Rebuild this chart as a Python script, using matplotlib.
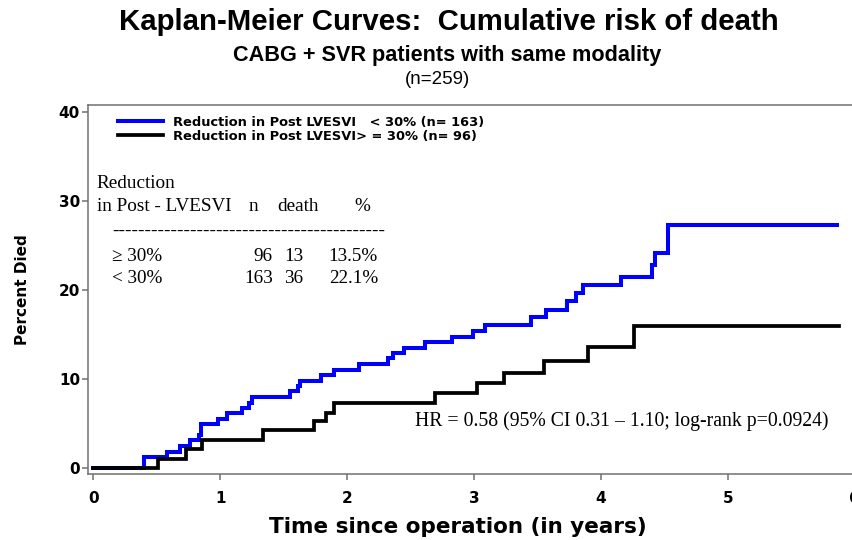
import matplotlib
matplotlib.use("Agg")
import matplotlib.pyplot as plt
from matplotlib.lines import Line2D

# Kaplan-Meier step points (years, cumulative % died)
blue_time = [0, 0.40, 0.58, 0.68, 0.76, 0.83, 0.85, 0.985, 1.056, 1.17, 1.23, 1.25,
             1.55, 1.61, 1.625, 1.79, 1.90, 2.09, 2.32, 2.36, 2.45, 2.61, 2.83, 2.99,
             3.09, 3.45, 3.57, 3.73, 3.80, 3.86, 4.16, 4.40, 4.43, 4.53, 5.86]
blue_pct = [0, 1.2, 1.8, 2.4, 3.1, 3.7, 4.9, 5.5, 6.1, 6.7, 7.3, 7.9,
            8.6, 9.2, 9.8, 10.4, 11.0, 11.7, 12.3, 12.9, 13.5, 14.1, 14.7, 15.4,
            16.1, 16.9, 17.7, 18.7, 19.6, 20.6, 21.5, 22.8, 24.2, 27.3, 27.3]

black_time = [0, 0.51, 0.73, 0.86, 1.335, 1.74, 1.83, 1.90, 2.69, 3.02, 3.24, 3.55,
              3.90, 4.26, 5.88]
black_pct = [0, 1.0, 2.1, 3.1, 4.2, 5.2, 6.2, 7.3, 8.4, 9.5, 10.7, 12.0,
             13.6, 15.9, 15.9]

legend_labels = ["Reduction in Post LVESVI   < 30% (n= 163)",
                 "Reduction in Post LVESVI> = 30% (n= 96)"]

# summary table
table_groups = ["\u2265 30%", "< 30%"]
table_n = [96, 163]
table_deaths = [13, 36]
table_pct = ["13.5%", "22.1%"]

hr_text = "HR = 0.58 (95% CI 0.31 \u2013 1.10; log-rank p=0.0924)"

W, H = 852, 540
fig = plt.figure(figsize=(W / 100, H / 100), dpi=100)
ax = fig.add_axes([88.3 / W, 1 - 474 / H, (854.7 - 88.3) / W, (474 - 105) / H])

ax.plot(blue_time, blue_pct, drawstyle="steps-post", color="#0000ff", lw=2.9,
        solid_joinstyle="miter")
ax.plot(black_time, black_pct, drawstyle="steps-post", color="black", lw=2.7,
        solid_joinstyle="miter")

ax.set_xlim(-0.04, 6.0)
ax.set_ylim(-0.71, 40.8)
ax.set_xticks(range(0, 7))
ax.set_yticks(range(0, 41, 10))

spine_col = "#707070"
for side in ["left", "bottom", "top", "right"]:
    ax.spines[side].set_color(spine_col)
    ax.spines[side].set_linewidth(1.1)
ax.tick_params(direction="out", length=4.5, width=1.1, color=spine_col, pad=1.5)
for lab in ax.get_xticklabels() + ax.get_yticklabels():
    lab.set_fontweight("bold")
    lab.set_fontsize(11)
    lab.set_family("DejaVu Sans")
ax.tick_params(axis="x", pad=8)

ax.set_xlabel("Time since operation (in years)", fontsize=15.5, fontweight="bold",
              family="DejaVu Sans")
ax.xaxis.set_label_coords((458 - 88.3) / 766.4, -(527 - 474) / 369)
ax.xaxis.label.set_va("center")
ax.set_ylabel("Percent Died", fontsize=11, fontweight="bold", family="DejaVu Sans")
ax.yaxis.set_label_coords(-(88.3 - 23) / 766.4, (474 - 290) / 369)
ax.yaxis.label.set_va("center")

handles = [Line2D([], [], color="#0000ff", lw=2.9), Line2D([], [], color="black", lw=2.7)]
ax.legend(handles, legend_labels, loc="upper left", bbox_to_anchor=(0.024, 1.003),
          frameon=False, handlelength=3.4, handletextpad=0.75, labelspacing=0.08,
          prop={"family": "DejaVu Sans", "weight": "bold", "size": 9.4})

serif = "Liberation Serif"
fs = 13.8
ax.text(0.027, 32.0, "Reduction", family=serif, fontsize=fs, va="center")
ax.text(0.027, 29.4, "in Post - LVESVI", family=serif, fontsize=fs, va="center")
ax.text(1.26, 29.4, "n", family=serif, fontsize=fs, va="center", ha="center")
ax.text(1.61, 29.4, "death", family=serif, fontsize=fs, va="center", ha="center")
ax.text(2.12, 29.4, "%", family=serif, fontsize=fs, va="center", ha="center")
ax.text(0.145, 26.6, "-" * 42, family=serif, fontsize=fs, va="center")
for i, y in enumerate([23.8, 21.3]):
    ax.text(0.145, y, table_groups[i], family=serif, fontsize=fs, va="center")
    ax.text(1.414, y, str(table_n[i]), family=serif, fontsize=fs, va="center", ha="right")
    ax.text(1.652, y, str(table_deaths[i]), family=serif, fontsize=fs, va="center", ha="right")
    ax.text(2.243, y, table_pct[i], family=serif, fontsize=fs, va="center", ha="right")

ax.text(2.535, 5.25, hr_text, family=serif, fontsize=14.2, va="center")

fig.text(449 / W, 1 - 22 / H, "Kaplan-Meier Curves:  Cumulative risk of death",
         ha="center", va="center", fontsize=21.2, fontweight="bold", family="Liberation Sans")
fig.text(447 / W, 1 - 56 / H, "CABG + SVR patients with same modality",
         ha="center", va="center", fontsize=15.6, fontweight="bold", family="Liberation Sans")
fig.text(438 / W, 1 - 80 / H, "(n=259)", ha="center", va="center", fontsize=13.5,
         family="Liberation Sans")

fig.savefig("out.png", dpi=100)
